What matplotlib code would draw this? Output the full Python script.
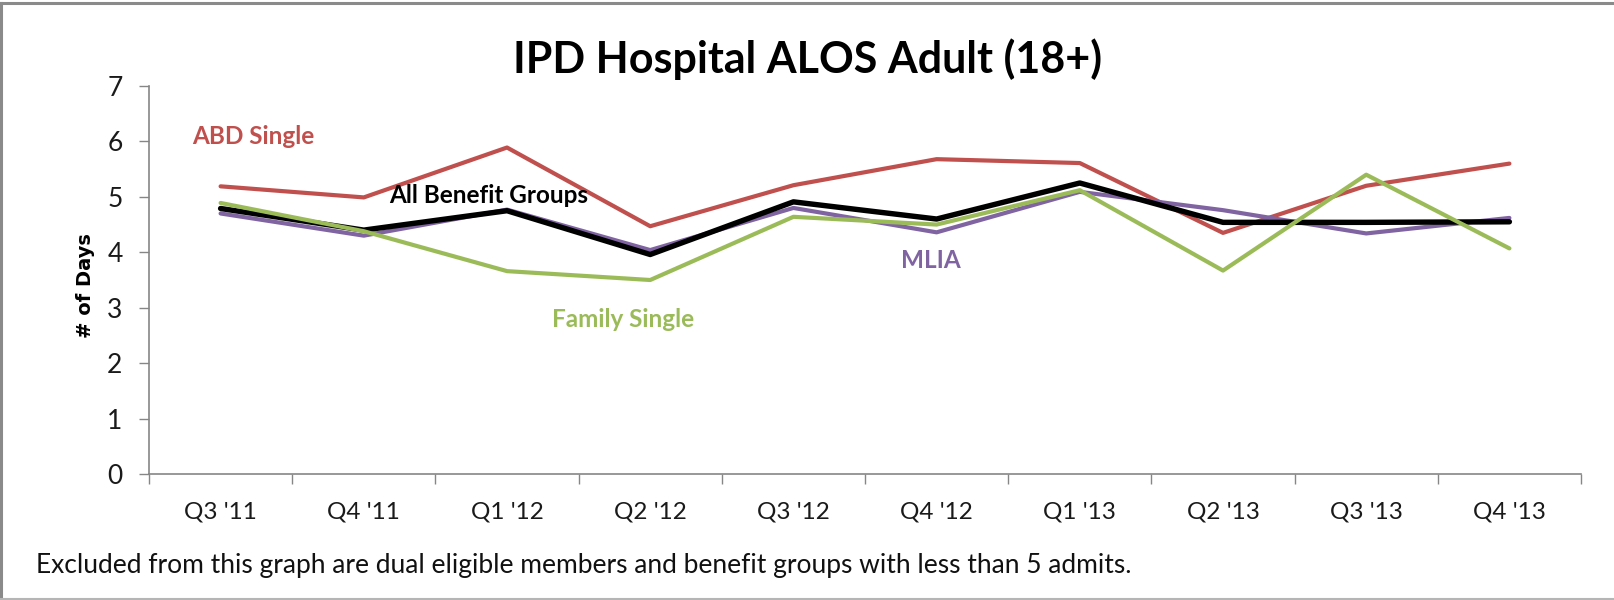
import matplotlib
matplotlib.use("Agg")
import matplotlib.pyplot as plt
from matplotlib.lines import Line2D
import numpy as np

categories = ["Q3 '11", "Q4 '11", "Q1 '12", "Q2 '12", "Q3 '12", "Q4 '12",
              "Q1 '13", "Q2 '13", "Q3 '13", "Q4 '13"]
abd_single = [5.19, 4.99, 5.89, 4.47, 5.21, 5.68, 5.61, 4.35, 5.20, 5.60]
mlia = [4.70, 4.30, 4.77, 4.04, 4.80, 4.36, 5.09, 4.76, 4.34, 4.62]
all_groups = [4.79, 4.40, 4.75, 3.96, 4.91, 4.60, 5.25, 4.54, 4.54, 4.55]
family_single = [4.89, 4.38, 3.66, 3.50, 4.64, 4.50, 5.12, 3.67, 5.40, 4.07]
y_ticks = [0, 1, 2, 3, 4, 5, 6, 7]

RED = "#C0504D"
PURPLE = "#8064A2"
GREEN = "#9BBB59"
GRAY = "#868686"
FONT = ["Lato", "DejaVu Sans"]

W, H = 1615, 600
fig = plt.figure(figsize=(W / 100, H / 100), dpi=100)
fig.patch.set_facecolor("white")

left, right, top, bottom = 149, 1581, 86, 474
ax = fig.add_axes([left / W, 1 - bottom / H, (right - left) / W, (bottom - top) / H])

x = np.arange(len(categories))
ax.plot(x, abd_single, color=RED, lw=3.0, solid_capstyle="round", zorder=3)
ax.plot(x, mlia, color=PURPLE, lw=3.0, solid_capstyle="round", zorder=4)
ax.plot(x, all_groups, color="black", lw=3.9, solid_capstyle="round", zorder=5)
ax.plot(x, family_single, color=GREEN, lw=3.0, solid_capstyle="round", zorder=6)

ax.set_xlim(-0.5, len(categories) - 0.5)
ax.set_ylim(0, 7)
ax.set_yticks(y_ticks)
ax.set_yticklabels([str(v) for v in y_ticks], family=FONT, fontsize=19, color="#1a1a1a")
ax.set_xticks(x)
ax.set_xticklabels(categories, family=FONT, fontsize=17.5, color="#1a1a1a")
ax.set_xticks(np.arange(len(categories) + 1) - 0.5, minor=True)
ax.tick_params(axis="x", which="major", length=0, pad=20)
ax.tick_params(axis="x", which="minor", length=7, width=1, color=GRAY, direction="out")
ax.tick_params(axis="y", which="major", length=7, width=1, color=GRAY, direction="out", pad=12)

for s in ["top", "right"]:
    ax.spines[s].set_visible(False)
for s in ["left", "bottom"]:
    ax.spines[s].set_color(GRAY)
    ax.spines[s].set_linewidth(1.2)

ax.set_ylabel("# of Days", family=["DejaVu Sans"], fontweight="bold", fontsize=14)
ax.yaxis.set_label_coords(-0.0377, 0.485)

# series labels
ax.text(0.23, 6.08, "ABD Single", color=RED, fontsize=17.5, fontweight="bold",
        family=FONT, ha="center", va="center")
ax.text(1.87, 5.02, "All Benefit Groups", color="black", fontsize=17.5, fontweight="bold",
        family=FONT, ha="center", va="center", zorder=7)
ax.text(4.96, 3.86, "MLIA", color=PURPLE, fontsize=17.5, fontweight="bold",
        family=FONT, ha="center", va="center")
ax.text(2.81, 2.78, "Family Single", color=GREEN, fontsize=17.5, fontweight="bold",
        family=FONT, ha="center", va="center")

# title and footnote
fig.text(808 / W, 1 - 59 / H, "IPD Hospital ALOS Adult (18+)", family=FONT,
         fontweight="bold", fontsize=31, ha="center", va="center")
fig.text(36 / W, 1 - 565 / H,
         "Excluded from this graph are dual eligible members and benefit groups with less than 5 admits.",
         family=FONT, fontsize=19, ha="left", va="center", color="#111111")

# outer border (top, left, bottom)
fig.add_artist(Line2D([0, 1], [1 - 3 / H, 1 - 3 / H], transform=fig.transFigure,
                      color="#8a8a8a", lw=2.2))
fig.add_artist(Line2D([1.5 / W, 1.5 / W], [0, 1 - 3 / H], transform=fig.transFigure,
                      color="#8a8a8a", lw=2.2))
fig.add_artist(Line2D([0, 1], [1.5 / H, 1.5 / H], transform=fig.transFigure,
                      color="#b5b5b5", lw=1.5))

fig.savefig("out.png", dpi=100, facecolor="white")
